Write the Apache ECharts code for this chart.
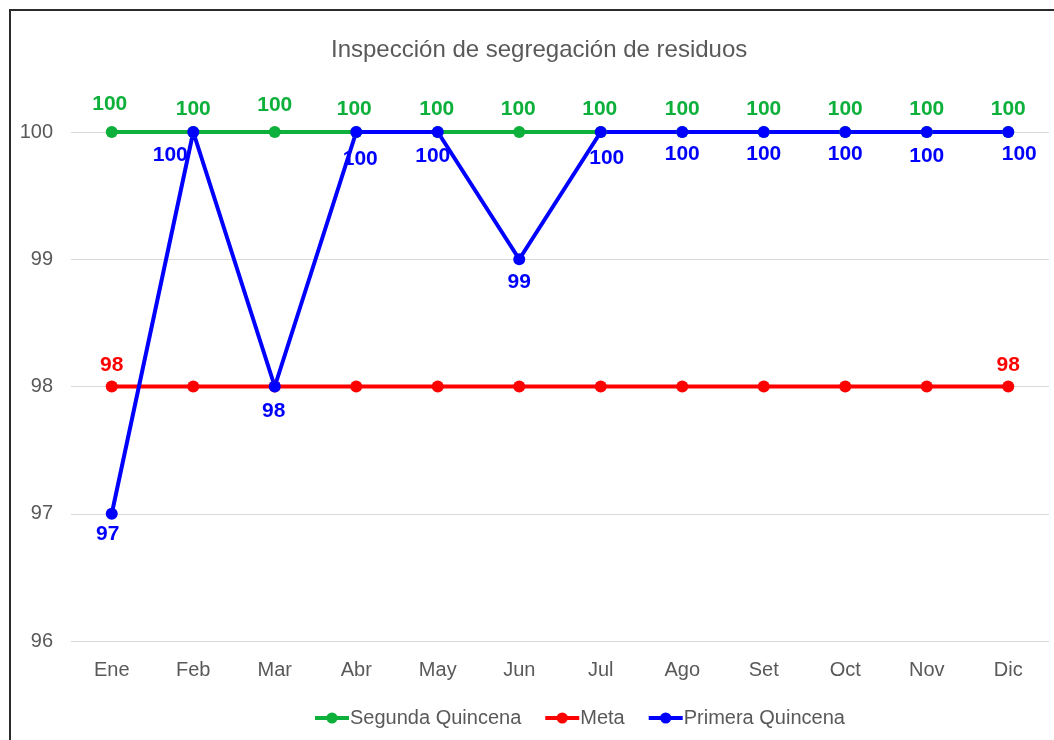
<!DOCTYPE html>
<html>
<head>
<meta charset="utf-8">
<script src="https://cdn.jsdelivr.net/npm/echarts@6/dist/echarts.min.js"></script>
<style>
  html, body { margin: 0; padding: 0; background: #fff; overflow: hidden; }
  #chart { width: 1054px; height: 740px; }
  .frame {
    position: absolute; left: 9px; top: 9px; width: 1100px; height: 800px;
    border: 2px solid #2b2b2b; pointer-events: none; box-sizing: border-box;
  }
</style>
</head>
<body>
<div id="chart"></div>
<div class="frame"></div>
<script>
// datos
var months = ["Ene", "Feb", "Mar", "Abr", "May", "Jun", "Jul", "Ago", "Set", "Oct", "Nov", "Dic"];
var segundaQuincena = [100, 100, 100, 100, 100, 100, 100, 100, 100, 100, 100, 100];
var meta = [98, 98, 98, 98, 98, 98, 98, 98, 98, 98, 98, 98];
var primeraQuincena = [97, 100, 98, 100, 100, 99, 100, 100, 100, 100, 100, 100];

// desplazamientos de etiquetas (como en el original de Excel)
var greenOffsets = [[-2, -6], [0, -1], [0, -5], [-2, -1], [-1, -1], [-1, -1], [-1, -1], [0, -1], [0, -1], [0, -1], [0, -1], [0, -1]];
var blueOffsets = [[-4, -1], [-23, 2], [-1, 3], [4, 6], [-5, 3], [0, 1], [6, 5], [0, 1], [0, 1], [0, 1], [0, 3], [11, 1]];

var fontLbl = "Liberation Sans";

function withOffsets(values, offsets) {
  return values.map(function (v, i) {
    return { value: v, label: { offset: offsets[i] } };
  });
}

var myChart = echarts.init(document.getElementById("chart"));
myChart.setOption({
  animation: false,
  title: {
    text: "Inspección de segregación de residuos",
    left: 326,
    top: 33,
    textStyle: { fontFamily: fontLbl, fontSize: 24, fontWeight: "normal", color: "#595959" }
  },
  legend: {
    bottom: 7,
    left: 308,
    itemWidth: 34,
    itemHeight: 14,
    itemGap: 22,
    lineStyle: { width: 4 },
    textStyle: { fontFamily: fontLbl, fontSize: 20, color: "#595959", padding: [0, 0, 0, -4] },
    data: ["Segunda Quincena", "Meta", "Primera Quincena"]
  },
  grid: { left: 71, right: 5, top: 132, bottom: 99 },
  xAxis: {
    type: "category",
    data: months,
    boundaryGap: true,
    axisLine: { show: false },
    axisTick: { show: false },
    axisLabel: { margin: 19, fontFamily: fontLbl, fontSize: 20, color: "#595959" }
  },
  yAxis: {
    type: "value",
    min: 96,
    max: 100,
    interval: 1,
    axisLine: { show: false },
    axisTick: { show: false },
    splitLine: { lineStyle: { color: "#d9d9d9", width: 1 } },
    axisLabel: { margin: 18, fontFamily: fontLbl, fontSize: 20, color: "#595959" }
  },
  series: [
    {
      name: "Segunda Quincena",
      type: "line",
      data: withOffsets(segundaQuincena, greenOffsets),
      symbol: "circle",
      symbolSize: 12,
      color: "#0db03a",
      lineStyle: { width: 4 },
      label: {
        show: true, position: "top", distance: 5,
        fontFamily: fontLbl, fontSize: 21, fontWeight: "bold", color: "#0db03a"
      }
    },
    {
      name: "Meta",
      type: "line",
      data: meta,
      symbol: "circle",
      symbolSize: 12,
      color: "#ff0000",
      lineStyle: { width: 4 },
      label: {
        show: true, position: "top", distance: 5,
        fontFamily: fontLbl, fontSize: 21, fontWeight: "bold", color: "#ff0000",
        formatter: function (p) {
          return (p.dataIndex === 0 || p.dataIndex === months.length - 1) ? p.value : "";
        }
      }
    },
    {
      name: "Primera Quincena",
      type: "line",
      data: withOffsets(primeraQuincena, blueOffsets),
      symbol: "circle",
      symbolSize: 12,
      color: "#0000ff",
      lineStyle: { width: 4 },
      label: {
        show: true, position: "bottom", distance: 5,
        fontFamily: fontLbl, fontSize: 21, fontWeight: "bold", color: "#0000ff"
      }
    }
  ]
});
</script>
</body>
</html>
